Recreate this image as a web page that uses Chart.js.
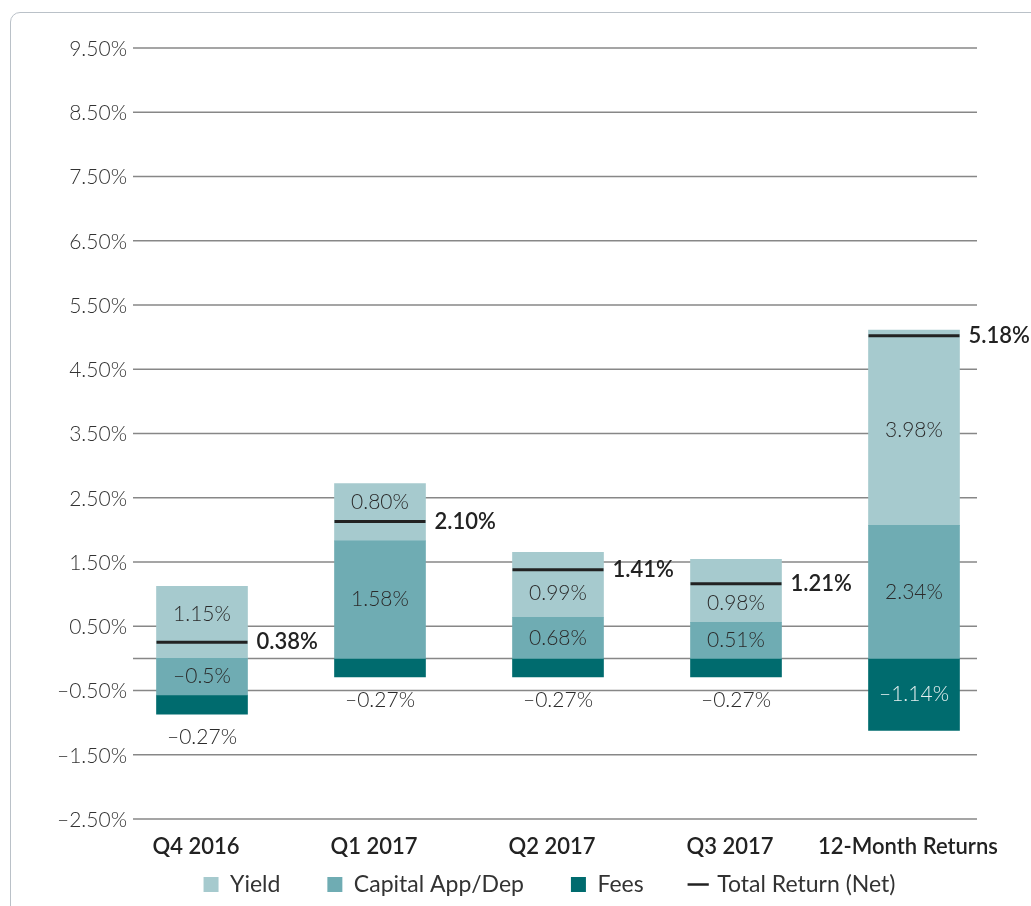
<!DOCTYPE html>
<html lang="en">
<head>
<meta charset="UTF-8">
<title>Return Attribution</title>
<script src="https://cdn.jsdelivr.net/npm/chart.js"></script>
<style>
    html, body { margin: 0; padding: 0; background: #fff; overflow: hidden; }
    .frame {
        position: absolute; left: 10px; top: 12px;
        width: 1100px; height: 1000px;
        border: 1.5px solid #bac1c8; border-radius: 10px;
    }
    .chart-box { position: absolute; left: 0; top: 0; width: 1031px; height: 906px; }
</style>
</head>
<body>
<div class="frame"></div>
<div class="chart-box"><canvas id="returnsChart"></canvas></div>
<script>
const categories = ['Q4 2016', 'Q1 2017', 'Q2 2017', 'Q3 2017', '12-Month Returns'];

// segment sizes as drawn in the picture (%)
const capitalValues = [-0.57, 1.83, 0.64, 0.56, 2.07];
const yieldValues = [1.12, 0.89, 1.01, 0.98, 3.04];
const feeValues = [-0.30, -0.29, -0.29, -0.29, -1.12];
const totalValues = [0.25, 2.13, 1.38, 1.16, 5.02];

// labels printed on the chart
const yieldLabels = ['1.15%', '0.80%', '0.99%', '0.98%', '3.98%'];
const capitalLabels = ['–0.5%', '1.58%', '0.68%', '0.51%', '2.34%'];
const feeLabels = ['–0.27%', '–0.27%', '–0.27%', '–0.27%', '–1.14%'];
const totalLabels = ['0.38%', '2.10%', '1.41%', '1.21%', '5.18%'];

const yMin = -2.5, yMax = 9.5, yStep = 1;
const legendOrder = ['Yield', 'Capital App/Dep', 'Fees', 'Total Return (Net)'];

const FONT = "Lato, 'Noto Sans', sans-serif";
Chart.defaults.font.family = FONT;

function pct(v) {
    return (v < 0 ? '–' : '') + Math.abs(v).toFixed(2) + '%';
}

// grid lines + axis labels (drawn here so they can sit outside the bar band) + value labels
const decorations = {
    id: 'decorations',
    beforeDatasetsDraw(chart) {
        const { ctx, chartArea, scales: { x, y } } = chart;
        const vals = y.ticks.map(t => t.value).concat([0]);
        ctx.save();
        ctx.strokeStyle = '#878787';
        ctx.lineWidth = 1.5;
        vals.forEach(v => {
            const py = y.getPixelForValue(v);
            ctx.beginPath();
            ctx.moveTo(chartArea.left + 20, py);
            ctx.lineTo(chartArea.right - 26, py);
            ctx.stroke();
        });

        // y tick labels
        ctx.fillStyle = '#333';
        ctx.font = `300 21px ${FONT}`;
        ctx.textAlign = 'right';
        ctx.textBaseline = 'middle';
        y.ticks.forEach(t => {
            ctx.fillText(pct(t.value), chartArea.left + 14, y.getPixelForValue(t.value) + 1);
        });

        // category labels
        ctx.fillStyle = '#222';
        ctx.font = `600 22px ${FONT}`;
        ctx.textAlign = 'center';
        categories.forEach((c, i) => {
            ctx.fillText(c, x.getPixelForValue(i) - 6, chartArea.bottom + 28);
        });
        ctx.restore();
    },
    afterDatasetsDraw(chart) {
        const { ctx } = chart;
        const capMeta = chart.getDatasetMeta(0);
        const yieldMeta = chart.getDatasetMeta(1);
        const feeMeta = chart.getDatasetMeta(2);
        const totalMeta = chart.getDatasetMeta(3);

        ctx.save();
        ctx.textBaseline = 'middle';

        const place = (el, lineY) => {
            const top = Math.min(el.y, el.base), bottom = Math.max(el.y, el.base);
            if (lineY > top && lineY < bottom) {
                return (lineY - top) > (bottom - lineY) ? (top + lineY) / 2 : (lineY + bottom) / 2;
            }
            return (top + bottom) / 2;
        };

        categories.forEach((c, i) => {
            const lineY = totalMeta.data[i].y;
            const yEl = yieldMeta.data[i], cEl = capMeta.data[i], fEl = feeMeta.data[i];

            ctx.textAlign = 'center';
            ctx.font = `300 21px ${FONT}`;
            ctx.fillStyle = '#2b2b2b';
            ctx.fillText(yieldLabels[i], yEl.x, place(yEl, lineY));
            ctx.fillText(capitalLabels[i], cEl.x, place(cEl, lineY));

            const fTop = Math.min(fEl.y, fEl.base), fBottom = Math.max(fEl.y, fEl.base);
            if (fBottom - fTop >= 30) {
                ctx.fillStyle = '#e6f0f0';
                ctx.fillText(feeLabels[i], fEl.x, (fTop + fBottom) / 2);
            } else {
                ctx.fillStyle = '#2b2b2b';
                ctx.fillText(feeLabels[i], fEl.x, fBottom + 23);
            }

            // total return label to the right of the bar
            ctx.fillStyle = '#222';
            ctx.textAlign = 'left';
            ctx.font = `600 22px ${FONT}`;
            ctx.fillText(totalLabels[i], cEl.x + cEl.width / 2 + 9, lineY);
        });
        ctx.restore();
    }
};

const ctx = document.getElementById('returnsChart').getContext('2d');
new Chart(ctx, {
    type: 'bar',
    data: {
        labels: categories,
        datasets: [
            { label: 'Capital App/Dep', data: capitalValues, backgroundColor: '#6facb3', stack: 'parts' },
            { label: 'Yield', data: yieldValues, backgroundColor: '#a6cace', stack: 'parts' },
            { label: 'Fees', data: feeValues, backgroundColor: '#006b6e', stack: 'parts' },
            {
                type: 'line', label: 'Total Return (Net)', data: totalValues, stack: 'total', order: -1,
                showLine: false, pointStyle: 'line', pointRadius: 45.5, pointHoverRadius: 45.5,
                pointBorderWidth: 3, pointHoverBorderWidth: 3, borderColor: '#222', backgroundColor: '#222'
            }
        ]
    },
    options: {
        responsive: true,
        maintainAspectRatio: false,
        animation: false,
        barThickness: 91,
        layout: { autoPadding: false, padding: { top: 48, right: 28, left: 96, bottom: 0 } },
        scales: {
            x: {
                stacked: true,
                grid: { display: false, drawTicks: false },
                border: { display: false },
                ticks: { display: false },
                afterFit: s => { s.height = 7; }
            },
            y: {
                stacked: true,
                min: yMin, max: yMax,
                grid: { display: false, drawTicks: false },
                border: { display: false },
                ticks: { stepSize: yStep, display: false },
                afterFit: s => { s.width = 17; }
            }
        },
        plugins: {
            tooltip: { enabled: false },
            legend: {
                position: 'bottom',
                labels: {
                    usePointStyle: true,
                    boxWidth: 15, boxHeight: 15, padding: 47,
                    color: '#333', font: { size: 23 },
                    sort: (a, b) => legendOrder.indexOf(a.text) - legendOrder.indexOf(b.text),
                    generateLabels(chart) {
                        const items = Chart.defaults.plugins.legend.labels.generateLabels(chart);
                        items.forEach(item => {
                            const ds = chart.data.datasets[item.datasetIndex];
                            if (ds.type === 'line') {
                                item.pointStyle = 'line';
                                item.strokeStyle = '#222';
                                item.lineWidth = 2.5;
                            } else {
                                item.pointStyle = 'rect';
                                item.fillStyle = ds.backgroundColor;
                                item.strokeStyle = ds.backgroundColor;
                                item.lineWidth = 0;
                            }
                        });
                        return items;
                    }
                }
            }
        }
    },
    plugins: [decorations]
});
</script>
</body>
</html>
